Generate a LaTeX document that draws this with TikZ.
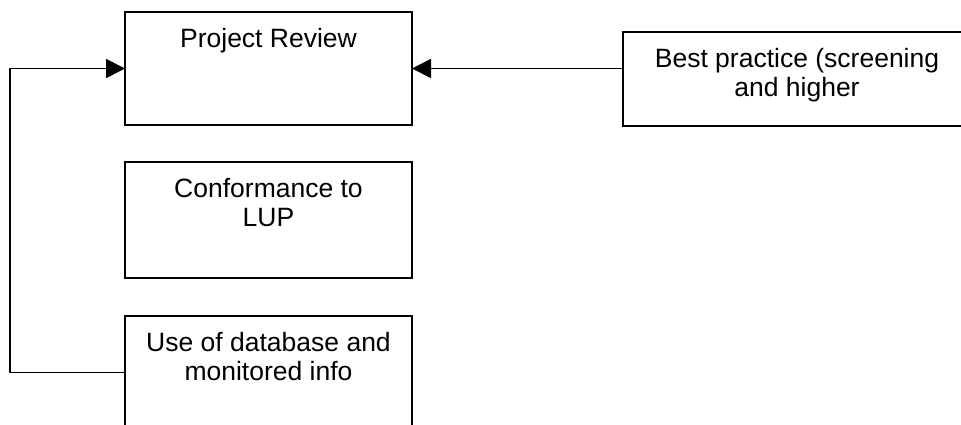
\documentclass[tikz,border=0pt]{standalone}
\usepackage{fontspec}
\setmainfont{Liberation Sans}
\usetikzlibrary{arrows.meta}

% box contents: fixed width and height, text centred and set from the top
\newcommand{\boxtext}[3]{%
  \parbox[t][#2][t]{#1}{\vspace*{16pt}\centering
    \fontsize{26.5pt}{29.5pt}\selectfont #3\par}}

\begin{document}
\begin{tikzpicture}[x=1pt, y=-1pt,
  stage/.style={draw, line width=1.9pt, inner sep=0pt, outer sep=0pt,
                anchor=north west, rectangle},
  link/.style={line width=1.8pt, -{Triangle[length=19pt, width=19pt]}}]
  \useasboundingbox (0,0) rectangle (961,424);
  \clip (0,0) rectangle (961,424);

  \node[stage] (pr) at (125,12)  {\boxtext{287pt}{113pt}{Project Review}};
  \node[stage] (cl) at (125,162) {\boxtext{287pt}{116pt}{Conformance to\\LUP}};
  \node[stage] (ud) at (125,316) {\boxtext{287pt}{113pt}{Use of database and\\monitored info}};
  \node[stage] (bp) at (623,32)  {\boxtext{348pt}{94pt}{Best practice (screening\\and higher}};

  % feedback from the database box round the left side
  \draw[link] (ud.west) -- ++(-115,0) |- (pr.west);
  % best practice feeding the review
  \draw[link] (bp.west |- pr.west) -- (pr.east);
\end{tikzpicture}
\end{document}
